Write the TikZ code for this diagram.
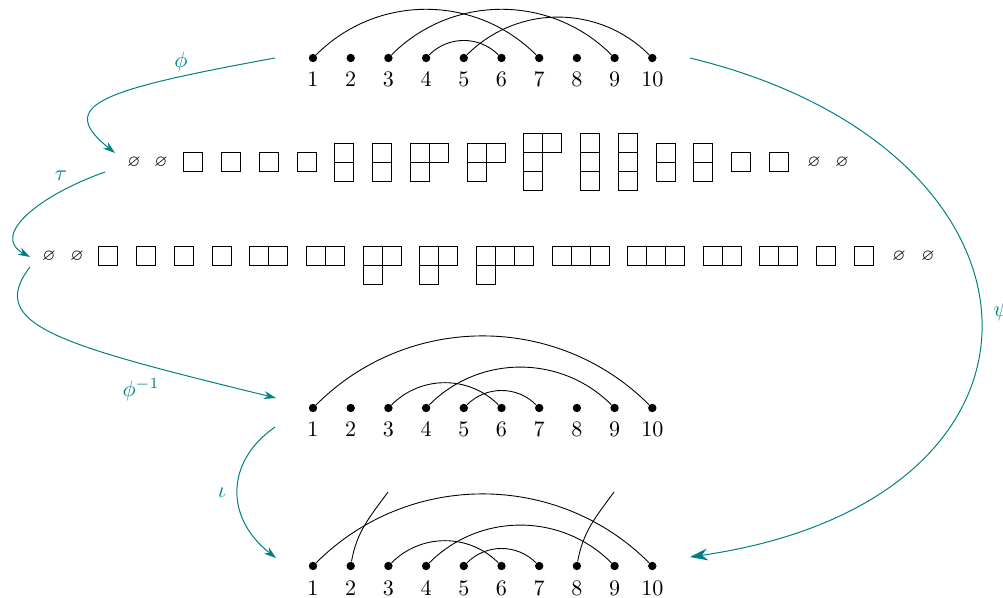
\documentclass[tikz,border=0pt]{standalone}
\usepackage{amssymb}
\usetikzlibrary{arrows.meta}
\newcommand\ydg[3]{%
  \foreach \r [count=\i from 0] in {#3} {%
    \foreach \c in {1,...,\r} {%
      \draw[cell] ({#1+(\c-1)*19},{-#2-\i*19}) rectangle ++(19,-19);
    }%
  }%
}
\newcommand\nothingsym{$\scriptstyle\varnothing$}
\begin{document}
\begin{tikzpicture}[x=0.4525pt,y=0.4525pt,
  dot/.style={circle,fill=black,inner sep=0pt,minimum size=3.8pt},
  num/.style={anchor=base,inner sep=0pt},
  arcline/.style={line width=0.4pt},
  cell/.style={draw,line width=0.45pt},
  map/.style={draw=teal,line width=0.45pt,-{Stealth[length=5.5pt,width=3.6pt]}},
  bigmap/.style={draw=teal,line width=0.45pt,-{Stealth[length=8pt,width=5.4pt]}},
  maplbl/.style={text=teal,inner sep=0pt},
  nul/.style={inner sep=0pt}]
\useasboundingbox (0,0) rectangle (1003,-598);

% arc diagrams
\foreach \i in {1,...,10} {
  \pgfmathsetmacro\xx{313+37.7*(\i-1)}
  \node[dot] (a\i) at (\xx,-58) {};
  \node[num] (la\i) at (\xx,-87) {\i};
  \node[dot] (b\i) at (\xx,-408) {};
  \node[num] (lb\i) at (\xx,-437) {\i};
  \node[dot] (c\i) at (\xx,-566) {};
  \node[num] (lc\i) at (\xx,-595) {\i};
}
\draw[arcline] (a1) to[bend left=45] (a7);
\draw[arcline] (a3) to[bend left=45] (a9);
\draw[arcline] (a4) to[bend left=45] (a6);
\draw[arcline] (a5) to[bend left=45] (a10);

\draw[arcline] (b1) to[bend left=45] (b10);
\draw[arcline] (b3) to[bend left=45] (b6);
\draw[arcline] (b4) to[bend left=45] (b9);
\draw[arcline] (b5) to[bend left=45] (b7);

\draw[arcline] (c1) to[bend left=45] (c10);
\draw[arcline] (c3) to[bend left=45] (c6);
\draw[arcline] (c4) to[bend left=45] (c9);
\draw[arcline] (c5) to[bend left=45] (c7);
\coordinate (e1) at (388,-492);
\coordinate (e2) at (614,-492);
\draw[arcline] (c2) to[out=80,in=234] (e1);
\draw[arcline] (c8) to[out=80,in=234] (e2);

% first row of diagrams
\node[nul] (n1) at (134,-163) {\nothingsym};
\node[nul] (n2) at (161,-163) {\nothingsym};
\ydg{183}{153}{1}
\ydg{221}{153}{1}
\ydg{259}{153}{1}
\ydg{297}{153}{1}
\ydg{334}{143.5}{1,1}
\ydg{372}{143.5}{1,1}
\ydg{410}{143.5}{2,1}
\ydg{467}{143.5}{2,1}
\ydg{523}{134}{2,1,1}
\ydg{580}{134}{1,1,1}
\ydg{618}{134}{1,1,1}
\ydg{656}{143.5}{1,1}
\ydg{693}{143.5}{1,1}
\ydg{731}{153}{1}
\ydg{769}{153}{1}
\node[nul] (n3) at (814,-163) {\nothingsym};
\node[nul] (n4) at (842,-163) {\nothingsym};

% second row of diagrams
\node[nul] (m1) at (49,-257) {\nothingsym};
\node[nul] (m2) at (77,-257) {\nothingsym};
\ydg{98}{247}{1}
\ydg{136}{247}{1}
\ydg{174}{247}{1}
\ydg{212}{247}{1}
\ydg{249}{247}{2}
\ydg{306}{247}{2}
\ydg{363}{247}{2,1}
\ydg{419}{247}{2,1}
\ydg{476}{247}{3,1}
\ydg{552}{247}{3}
\ydg{627}{247}{3}
\ydg{703}{247}{2}
\ydg{759}{247}{2}
\ydg{816}{247}{1}
\ydg{854}{247}{1}
\node[nul] (m3) at (899,-257) {\nothingsym};
\node[nul] (m4) at (928,-257) {\nothingsym};

% maps
\coordinate (p0) at (275,-58);
\coordinate (p1) at (115,-153);
\draw[map] (p0) .. controls (100,-90) and (55,-105) .. (p1);
\node[maplbl] (lphi) at (181,-62) {$\phi$};

\coordinate (q0) at (105,-172);
\coordinate (q1) at (30,-257);
\draw[map] (q0) .. controls (40,-195) and (-10,-235) .. (q1);
\node[maplbl] (ltau) at (61,-176) {$\tau$};

\coordinate (r0) at (30,-267);
\coordinate (r1) at (276,-398);
\draw[map] (r0) .. controls (-15,-325) and (60,-345) .. (r1);
\node[maplbl] (lphiinv) at (141,-390) {$\phi^{-1}$};

\coordinate (s0) at (275,-427);
\coordinate (s1) at (276,-558);
\draw[map] (s0) .. controls (225,-462) and (225,-518) .. (s1);
\node[maplbl] (liota) at (222,-493) {$\iota$};

\coordinate (u0) at (690,-58);
\coordinate (u1) at (690,-557);
\draw[bigmap] (u0) .. controls (1070,-150) and (1085,-500) .. (u1);
\node[maplbl] (lpsi) at (1001,-311) {$\psi$};
\end{tikzpicture}
\end{document}
